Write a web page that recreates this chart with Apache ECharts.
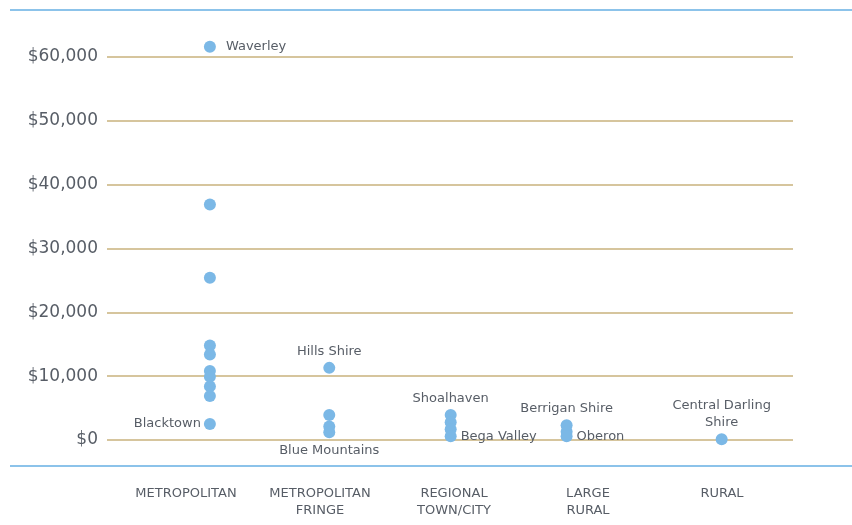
<!DOCTYPE html>
<html>
<head>
<meta charset="utf-8">
<script src="https://cdn.jsdelivr.net/npm/echarts@6/dist/echarts.min.js"></script>
<style>
  html, body { margin: 0; padding: 0; background: #fff; }
  #chart { width: 852px; height: 525px; }
</style>
</head>
<body>
<div id="chart"></div>
<script>
  // categories along the bottom
  const categories = ['METROPOLITAN', 'METROPOLITAN\nFRINGE', 'REGIONAL\nTOWN/CITY', 'LARGE\nRURAL', 'RURAL']
  // where each category's dots sit along the plot (share of plot width)
  const categoryX = [0.15, 0.324, 0.501, 0.67, 0.896]

  // values per council, one array per category
  const metropolitan = [61600, 36900, 25400, 14800, 13400, 10800, 9900, 8400, 6900, 2500]
  const metroFringe = [11300, 3900, 2100, 1200]
  const regional = [3900, 2800, 1700, 600]
  const largeRural = [2300, 1300, 600]
  const rural = [100]
  const valuesByCategory = [metropolitan, metroFringe, regional, largeRural, rural]

  // named councils: category index, value, label, label position
  const namedPoints = [
    [0, 61600, 'Waverley', 'right'],
    [0, 2500, 'Blacktown', 'left'],
    [1, 11300, 'Hills Shire', 'top'],
    [1, 1200, 'Blue Mountains', 'bottom'],
    [2, 3900, 'Shoalhaven', 'top'],
    [2, 600, 'Bega Valley', 'right'],
    [3, 2300, 'Berrigan Shire', 'top'],
    [3, 600, 'Oberon', 'right'],
    [4, 100, 'Central Darling\nShire', 'top']
  ]

  const yTicks = [0, 10000, 20000, 30000, 40000, 50000, 60000]

  const font = 'DejaVu Sans'
  const textColor = '#575d66'

  let points = []
  valuesByCategory.forEach((vals, ci) => {
    vals.forEach(v => {
      let item = {value: [categoryX[ci], v]}
      let named = namedPoints.find(n => n[0] == ci && n[1] == v)
      if (named) {
        let pos = named[3]
        let dist = {top: 2, bottom: 4, left: 3, right: 4}[pos]
        if (named[2] == 'Waverley') dist = 10
        item.label = {
          show: true,
          formatter: named[2],
          position: pos,
          distance: dist
        }
        if (pos == 'top' || pos == 'bottom') item.label.align = 'center'
      }
      points.push(item)
    })
  })

  let chart = echarts.init(document.getElementById('chart'))
  let option = {
    animation: false,
    grid: [
      {left: 107, right: 59, top: 57, bottom: 85},
      {left: 119, right: 63, top: 57, bottom: 59}
    ],
    xAxis: [
      {
        type: 'value', gridIndex: 0, min: 0, max: 1,
        show: false
      },
      {
        type: 'category', gridIndex: 1, data: categories,
        axisLine: {show: false},
        axisTick: {show: false},
        axisLabel: {
          margin: 19,
          fontFamily: font,
          fontSize: 13,
          lineHeight: 17,
          color: textColor
        }
      }
    ],
    yAxis: [
      {
        type: 'value', gridIndex: 0,
        min: yTicks[0], max: yTicks[yTicks.length - 1], interval: 10000,
        axisLine: {show: false},
        axisTick: {show: false},
        axisLabel: {
          margin: 9,
          fontFamily: font,
          fontSize: 17,
          color: textColor,
          formatter: v => '$' + v.toLocaleString('en-US')
        },
        splitLine: {lineStyle: {color: '#c9b27c', width: 1.5}}
      },
      {type: 'value', gridIndex: 1, show: false}
    ],
    graphic: [
      {type: 'line', shape: {x1: 10, y1: 10, x2: 852, y2: 10}, style: {stroke: '#8cc3ea', lineWidth: 2}},
      {type: 'line', shape: {x1: 10, y1: 466, x2: 852, y2: 466}, style: {stroke: '#8cc3ea', lineWidth: 2}}
    ],
    series: [
      {
        type: 'scatter',
        xAxisIndex: 0,
        yAxisIndex: 0,
        clip: false,
        symbolSize: 12,
        itemStyle: {color: '#7bb8e6', opacity: 1},
        label: {
          fontFamily: font,
          fontSize: 13,
          lineHeight: 17,
          color: textColor
        },
        data: points
      }
    ]
  }
  chart.setOption(option)
</script>
</body>
</html>
